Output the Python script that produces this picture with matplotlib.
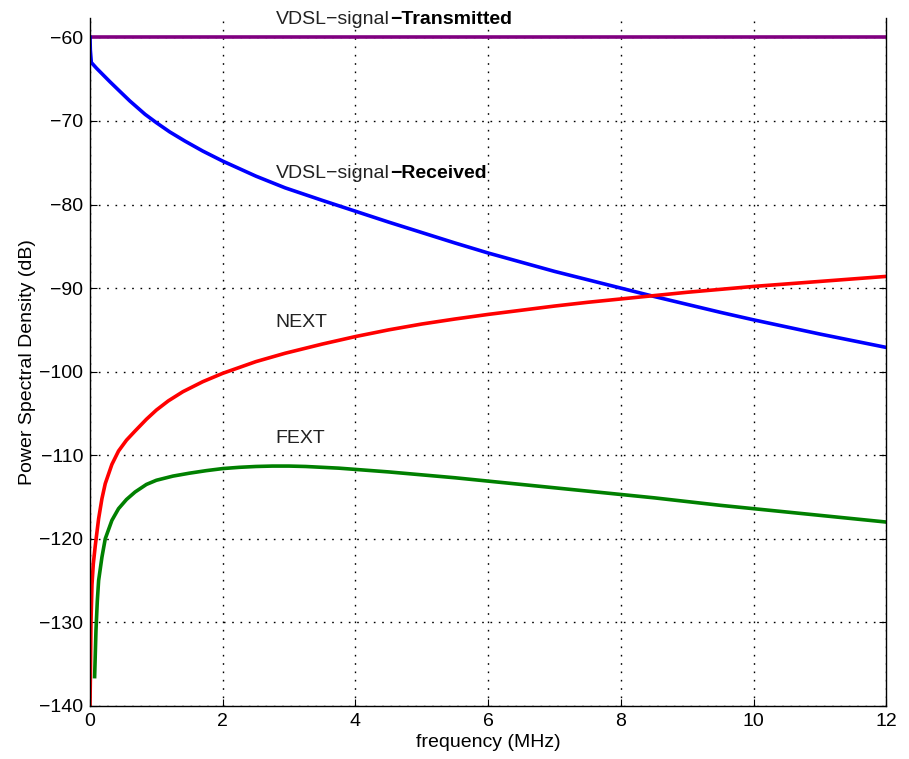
import matplotlib
matplotlib.use("Agg")
import matplotlib.pyplot as plt

plt.rcParams["font.family"] = ["Liberation Sans", "DejaVu Sans"]

# values (frequency in MHz, PSD in dB)
transmitted_f = [0.0, 12.0]
transmitted_db = [-60.0, -60.0]

recv_f = [0.0, 0.005, 0.02, 0.1, 0.2, 0.3, 0.43, 0.6, 0.83, 1.0, 1.2, 1.43, 1.7,
          2.0, 2.5, 2.94, 3.5, 4.0, 4.5, 5.0, 5.5, 6.0, 6.5, 7.0, 7.5, 8.0, 8.5, 9.0,
          9.5, 10.0, 10.5, 11.0, 11.5, 12.0]
recv_db = [-60.0, -61.5, -63.0, -63.7, -64.5, -65.3, -66.3, -67.6, -69.2, -70.2,
           -71.3, -72.4, -73.6, -74.8, -76.6, -78.0, -79.5, -80.8, -82.1, -83.35, -84.6,
           -85.8, -86.9, -88.0, -89.0, -90.0, -91.0, -91.95, -92.9, -93.8, -94.65, -95.5,
           -96.3, -97.1]

next_f = [0.0, 0.005, 0.015, 0.03, 0.05, 0.08, 0.13, 0.18, 0.23, 0.33, 0.43, 0.55, 0.68,
          0.85, 1.0, 1.18, 1.4, 1.7, 2.0, 2.5, 2.94, 3.5, 4.0, 4.5, 5.0, 5.5, 6.0, 6.5,
          7.0, 7.5, 8.0, 8.5, 9.0, 9.5, 10.0, 10.5, 11.0, 11.5, 12.0]
next_db = [-140.0, -137.0, -130.0, -125.5, -123.0, -120.8, -117.6, -115.2, -113.4, -111.1,
           -109.5, -108.2, -107.1, -105.7, -104.6, -103.5, -102.4, -101.2, -100.2, -98.8,
           -97.8, -96.7, -95.8, -95.0, -94.3, -93.7, -93.15, -92.65, -92.15, -91.7, -91.3,
           -90.9, -90.5, -90.15, -89.8, -89.5, -89.2, -88.9, -88.6]

fext_f = [0.07, 0.09, 0.11, 0.13, 0.18, 0.23, 0.33, 0.43, 0.55, 0.68, 0.85, 1.0, 1.25,
          1.5, 1.75, 2.0, 2.25, 2.5, 2.75, 3.0, 3.25, 3.5, 3.75, 4.0, 4.5, 5.0, 5.5, 6.0,
          6.5, 7.0, 7.5, 8.0, 8.5, 9.0, 9.5, 10.0, 10.5, 11.0, 11.5, 12.0]
fext_db = [-136.5, -131.0, -127.5, -125.0, -122.2, -120.0, -117.8, -116.4, -115.3, -114.4,
           -113.5, -113.0, -112.5, -112.15, -111.85, -111.6, -111.45, -111.35, -111.3,
           -111.3, -111.35, -111.45, -111.55, -111.7, -112.0, -112.35, -112.7, -113.1,
           -113.5, -113.9, -114.3, -114.7, -115.1, -115.55, -116.0, -116.4, -116.8,
           -117.2, -117.6, -118.0]

fig = plt.figure(figsize=(9.09, 7.59), dpi=100)
ax = fig.add_axes([0.099, 0.070, 0.876, 0.906])

lw = 2.6
ax.plot(transmitted_f, transmitted_db, color="#800080", lw=lw)
ax.plot(recv_f, recv_db, color="#0000ff", lw=lw)
ax.plot(next_f, next_db, color="#ff0000", lw=lw)
ax.plot(fext_f, fext_db, color="#008000", lw=lw)

ax.set_xlim(0, 12)
ax.set_ylim(-140, -57.7)
ax.set_xticks(range(0, 13, 2))
ax.set_yticks(range(-140, -59, 10))
ax.tick_params(direction="in", length=5, labelsize=14, colors="black", right=True, pad=5)
ax.grid(True, color="black", linestyle=(0, (1.2, 4.8)), linewidth=1.0)
ax.spines["top"].set_visible(False)
for s in ("left", "bottom", "right"):
    ax.spines[s].set_linewidth(1.0)

ax.set_xlabel("frequency (MHz)", fontsize=14, labelpad=3)
ax.set_ylabel("Power Spectral Density (dB)", fontsize=14, labelpad=2)

txt = ax.text(2.8, -57.8, "VDSL\u2212signal", fontsize=14, color="#222222", va="center",
              clip_on=False)
ax.annotate("\u2212Transmitted", xycoords=txt, xy=(1, 0.5), va="center", fontsize=14,
            fontweight="bold", color="black")
txt2 = ax.text(2.8, -76.3, "VDSL\u2212signal", fontsize=14, color="#222222", va="center")
ax.annotate("\u2212Received", xycoords=txt2, xy=(1, 0.5), va="center", fontsize=14,
            fontweight="bold", color="black")
ax.text(2.8, -94.1, "NEXT", fontsize=14, color="#222222", va="center")
ax.text(2.8, -108.0, "FEXT", fontsize=14, color="#222222", va="center")

fig.savefig("out.png", dpi=100)
